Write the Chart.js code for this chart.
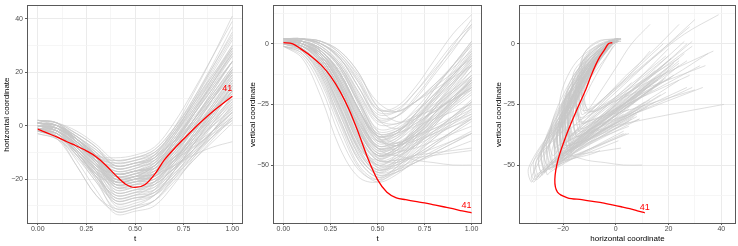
<!DOCTYPE html>
<html><head><meta charset="utf-8">
<script src="https://cdn.jsdelivr.net/npm/chart.js@4.4.1/dist/chart.umd.min.js"></script>
<style>
html,body{margin:0;padding:0;background:#fff;}
#wrap{position:relative;width:738px;height:246px;overflow:hidden;}
canvas{position:absolute;top:0;}
</style></head><body>
<div id="wrap">
<canvas id="c1" width="246" height="246" style="left:0px"></canvas>
<canvas id="c2" width="246" height="246" style="left:246px"></canvas>
<canvas id="c3" width="246" height="246" style="left:492px"></canvas>
</div>
<script>
// ---------- data ----------
const tCoarse = [0, 0.1, 0.2, 0.3, 0.4, 0.5, 0.6, 0.7, 0.8, 0.9, 1.0];
const tFine = [0, 0.05, 0.1, 0.15, 0.2, 0.25, 0.3, 0.35, 0.4, 0.45, 0.5, 0.55, 0.6, 0.65, 0.7, 0.75, 0.8, 0.85, 0.9, 0.95, 1.0];

const redLabel = '41';
const redH = [-1.3, -2.8, -4.3, -6.0, -7.6, -9.4, -11.6, -14.8, -18.5, -21.8, -23.1, -22.1, -18.3, -12.9, -8.7, -5.0, -1.3, 2.1, 5.3, 8.2, 11.0];
const redV = [0.5, 0.0, -2.5, -5.3, -8.7, -13.3, -19.5, -27.3, -37.0, -47.5, -56.0, -61.2, -63.5, -64.3, -65.0, -65.6, -66.4, -67.2, -68.0, -68.9, -69.7];

const grayH = [
[0,-1,-8,-15,-18,-17,-14,-6,3,12,21],
[1,0,-5,-11,-19,-18,-15,-7,2,11,20],
[-2,-4,-10,-18,-27,-26,-22,-13,-3,7,17],
[-1,-3,-11,-19,-25,-24,-21,-13,-4,6,15],
[2,1,-3,-8,-14,-13,-10,-2,8,19,30],
[0,-2,-8,-17,-30,-29,-26,-17,-7,3,13],
[1,-1,-9,-17,-20,-19,-15,-6,5,16,27],
[-3,-5,-11,-20,-32,-31,-28,-19,-9,1,11],
[0,-1,-5,-10,-16,-15,-12,-4,6,16,26],
[1,0,-6,-13,-18,-17,-16,-10,-2,7,16],
[-1,-2,-7,-13,-22,-21,-20,-13,-4,5,14],
[-2,-3,-9,-17,-28,-27,-25,-17,-7,4,15],
[1,0,-5,-11,-12,-11,-8,1,13,26,39],
[0,-1,-6,-13,-22,-21,-19,-11,-1,10,21],
[-1,-3,-10,-19,-28,-27,-25,-18,-10,-2,6],
[2,1,-6,-14,-19,-18,-14,-4,8,20,32],
[0,-2,-8,-15,-21,-20,-17,-10,-2,6,14],
[1,0,-5,-12,-21,-20,-18,-12,-5,2,9],
[-1,-2,-10,-19,-26,-25,-23,-15,-5,5,15],
[0,-1,-6,-12,-17,-16,-13,-5,5,16,27],
[1,0,-4,-10,-15,-14,-11,-3,9,22,35],
[-2,-4,-13,-24,-33,-32,-30,-22,-12,-2,8],
[0,-2,-7,-14,-23,-22,-20,-14,-7,0,7],
[1,-1,-6,-13,-20,-19,-16,-8,2,12,22],
[2,1,-5,-12,-16,-15,-12,-3,9,21,33],
[-1,-3,-9,-17,-25,-24,-22,-16,-9,-2,5],
[0,-1,-5,-11,-18,-17,-15,-8,1,10,19],
[1,0,-6,-13,-17,-16,-13,-5,6,18,30],
[-2,-4,-10,-19,-29,-28,-26,-19,-11,-3,5],
[0,-1,-5,-11,-16,-15,-11,-1,12,26,41],
[1,0,-6,-12,-14,-13,-10,-2,8,18,28],
[-1,-2,-7,-14,-23,-22,-21,-16,-10,-4,2],
[0,-1,-6,-13,-20,-19,-17,-11,-4,3,10],
[2,1,-5,-11,-13,-12,-9,-1,10,22,34],
[-3,-5,-12,-21,-31,-30,-28,-21,-13,-5,3],
[0,-2,-7,-14,-21,-20,-18,-13,-8,-3,2],
[1,0,-7,-14,-18,-17,-16,-12,-7,-2,3],
[-1,-2,-7,-14,-21,-20,-19,-15,-11,-8,-6],
[0,-1,-6,-12,-19,-18,-16,-9,0,9,18],
[1,0,-6,-13,-15,-14,-11,-2,10,23,37],
[-2,-3,-8,-15,-24,-23,-22,-16,-9,-2,5],
[0,-1,-5,-11,-19,-18,-17,-12,-6,0,6],
[-1,-4,-15,-26,-32,-31,-28,-20,-11,-2,7],
[1,0,-4,-9,-15,-14,-12,-5,4,14,24],
[0,-1,-6,-12,-20,-19,-18,-12,-4,5,13],
[-2,-3,-10,-19,-27,-26,-24,-16,-6,4,13],
[2,1,-2,-7,-13,-12,-10,-3,6,15,24],
[0,-2,-8,-16,-24,-23,-21,-14,-5,4,12],
[1,0,-6,-12,-14,-13,-11,-6,0,6,13],
[1,-1,-7,-15,-22,-21,-18,-10,0,10,20],
[-1,-3,-9,-16,-20,-19,-15,-6,4,14,24],
[0,-2,-9,-16,-21,-21,-20,-14,-5,5,15],
[2,0,-5,-12,-22,-22,-21,-15,-7,2,11],
[-2,-4,-11,-20,-29,-28,-24,-14,-3,8,19],
[0,-1,-7,-12,-13,-12,-9,-1,9,19,29],
[1,0,-4,-11,-20,-19,-18,-11,-2,8,18],
[-1,-3,-10,-19,-26,-25,-21,-12,-1,10,21],
[0,-1,-8,-16,-19,-18,-15,-8,1,10,19],
[1,0,-4,-10,-19,-19,-18,-15,-9,-2,5],
[-2,-4,-10,-18,-27,-26,-25,-19,-12,-4,4],
[0,-2,-10,-18,-21,-20,-16,-7,4,15,26],
[1,0,-3,-8,-15,-14,-13,-7,2,12,22],
[-1,-2,-7,-14,-25,-24,-23,-17,-9,0,9],
[2,1,-5,-12,-18,-17,-15,-7,4,16,28],
[0,-1,-6,-13,-23,-23,-22,-16,-8,1,10],
[-1,-3,-9,-17,-23,-22,-18,-9,2,13,24],
[1,0,-7,-15,-18,-17,-13,-4,7,18,29],
[0,-2,-8,-16,-26,-25,-24,-18,-11,-4,3],
[2,1,-3,-8,-16,-15,-14,-8,1,11,21],
[-2,-5,-15,-26,-31,-30,-26,-17,-7,3,13],
[0,-1,-5,-11,-20,-20,-19,-13,-4,6,16],
[1,-1,-6,-14,-22,-21,-18,-10,-1,8,17],
[-1,-2,-9,-17,-21,-20,-17,-9,2,13,24],
[0,-2,-7,-14,-20,-19,-15,-6,5,17,29],
[1,0,-4,-9,-15,-14,-12,-6,2,11,20],
[-2,-3,-11,-21,-28,-27,-26,-20,-13,-6,1],
[0,-1,-6,-12,-21,-20,-19,-12,-3,7,17],
[2,0,-5,-11,-17,-16,-12,-3,7,17,27],
[-1,-3,-10,-18,-22,-21,-19,-13,-6,1,8],
[1,0,-5,-11,-18,-17,-15,-9,-2,5,12],
[0,-1,-5,-11,-18,-17,-14,-6,4,14,24]
];

const grayV = [
[1,0,-6,-18,-33,-40,-37,-30,-22,-14,-6],
[2,2,-3,-12,-28,-41,-39,-31,-22,-12,-2],
[0,-2,-10,-26,-42,-50,-47,-40,-32,-24,-16],
[1,0,-6,-19,-36,-46,-43,-35,-27,-19,-11],
[2,2,0,-7,-20,-32,-30,-22,-12,-1,10],
[0,-3,-14,-32,-48,-55,-51,-44,-37,-30,-23],
[1,0,-5,-15,-30,-42,-40,-32,-22,-11,0],
[-1,-4,-15,-33,-50,-56,-53,-46,-39,-32,-25],
[1,1,-2,-10,-25,-38,-37,-29,-19,-9,1],
[2,1,-4,-16,-34,-45,-42,-36,-29,-22,-15],
[0,-1,-7,-20,-37,-48,-46,-39,-31,-23,-15],
[0,-2,-11,-27,-44,-53,-50,-42,-33,-24,-15],
[2,2,0,-6,-16,-27,-26,-18,-7,4,12],
[1,0,-7,-21,-38,-47,-44,-36,-26,-16,-6],
[0,-2,-10,-26,-43,-52,-50,-46,-41,-36,-31],
[1,1,-3,-13,-28,-38,-36,-30,-23,-16,-9],
[1,0,-6,-18,-34,-44,-42,-37,-31,-25,-19],
[2,1,-5,-17,-33,-43,-42,-40,-37,-34,-31],
[0,-1,-8,-23,-40,-49,-47,-42,-36,-30,-24],
[1,0,-4,-14,-29,-40,-38,-31,-23,-15,-7],
[1,1,-2,-10,-24,-36,-35,-29,-21,-13,-4],
[-1,-4,-16,-35,-51,-57,-54,-48,-42,-36,-30],
[1,0,-6,-19,-36,-46,-45,-42,-38,-34,-30],
[2,1,-4,-15,-31,-42,-40,-34,-27,-20,-13],
[1,1,-3,-12,-27,-37,-36,-32,-28,-23,-18],
[0,-2,-9,-24,-41,-50,-49,-46,-43,-40,-37],
[1,1,-3,-12,-27,-38,-36,-29,-21,-13,-5],
[2,2,-1,-8,-21,-33,-33,-30,-27,-23,-19],
[0,-2,-12,-29,-46,-54,-52,-47,-42,-37,-32],
[1,0,-4,-13,-27,-38,-37,-34,-31,-28,-25],
[2,2,1,-4,-14,-27,-27,-20,-11,-2,7],
[0,-1,-8,-22,-39,-48,-48,-46,-45,-44,-43],
[1,0,-5,-17,-34,-45,-46,-48,-49,-50,-50],
[2,2,0,-5,-15,-28,-28,-24,-19,-14,-9],
[-1,-3,-13,-31,-48,-55,-53,-49,-45,-41,-37],
[1,0,-6,-19,-35,-45,-44,-40,-36,-32,-28],
[2,1,-4,-15,-31,-42,-41,-38,-35,-32,-29],
[0,-1,-7,-21,-38,-48,-48,-47,-46,-45,-44],
[1,1,-3,-11,-24,-35,-34,-27,-18,-9,0],
[2,2,-1,-8,-20,-31,-30,-24,-17,-10,-3],
[0,-1,-5,-16,-32,-43,-42,-39,-35,-31,-27],
[1,0,-4,-13,-27,-39,-38,-33,-28,-22,-16],
[-1,-6,-22,-43,-55,-57,-52,-45,-38,-31,-24],
[2,2,0,-6,-18,-30,-30,-23,-13,-3,8],
[1,1,-3,-12,-27,-40,-39,-32,-23,-13,-3],
[0,-2,-9,-24,-41,-51,-48,-41,-33,-25,-17],
[2,2,1,-3,-12,-26,-28,-24,-18,-12,-6],
[1,-1,-9,-25,-43,-52,-49,-42,-34,-26,-18],
[2,2,0,-6,-18,-29,-28,-20,-10,0,8],
[1,0,-5,-17,-35,-47,-45,-38,-29,-20,-11],
[0,-2,-10,-27,-43,-48,-44,-36,-27,-18,-9],
[1,1,-2,-9,-22,-36,-41,-37,-30,-22,-14],
[2,1,-3,-13,-29,-43,-46,-42,-36,-30,-24],
[0,-3,-13,-31,-47,-53,-49,-41,-32,-23,-14],
[2,2,1,-4,-13,-24,-28,-24,-17,-9,-1],
[1,1,-2,-10,-25,-39,-42,-38,-31,-23,-15],
[0,-2,-11,-28,-45,-52,-48,-39,-29,-19,-9],
[1,0,-5,-16,-32,-44,-43,-38,-32,-26,-20],
[2,1,-2,-9,-23,-38,-44,-43,-40,-37,-34],
[-1,-3,-12,-29,-46,-54,-53,-49,-45,-41,-37],
[1,0,-6,-19,-36,-46,-43,-34,-24,-14,-4],
[2,2,0,-5,-16,-31,-35,-31,-24,-16,-8],
[0,-1,-7,-21,-39,-50,-50,-46,-41,-36,-31],
[2,2,-1,-9,-24,-37,-36,-31,-25,-19,-13],
[1,0,-5,-17,-34,-47,-49,-45,-39,-33,-27],
[0,-1,-8,-23,-41,-50,-46,-37,-27,-17,-7],
[1,1,-3,-12,-27,-39,-37,-29,-19,-9,1],
[1,-1,-8,-22,-40,-51,-51,-48,-44,-40,-36],
[2,2,1,-3,-12,-26,-32,-31,-26,-20,-14],
[-1,-5,-18,-38,-52,-56,-51,-43,-34,-25,-16],
[1,1,-2,-9,-23,-38,-42,-38,-31,-24,-17],
[1,0,-5,-17,-35,-46,-44,-39,-33,-27,-21],
[0,-1,-6,-19,-36,-46,-43,-35,-26,-17,-8],
[1,0,-5,-17,-33,-43,-41,-36,-30,-24,-18],
[2,2,0,-6,-18,-31,-33,-28,-21,-13,-5],
[0,-2,-10,-26,-44,-53,-52,-49,-46,-43,-40],
[1,0,-4,-14,-30,-43,-43,-37,-29,-21,-13],
[2,1,-3,-12,-27,-38,-37,-33,-28,-23,-18],
[0,-1,-6,-19,-36,-46,-45,-41,-37,-33,-29],
[1,1,-3,-12,-27,-40,-41,-38,-34,-30,-26],
[1,0,-4,-15,-31,-43,-42,-36,-29,-22,-15]
];

// axis ticks (major ones are labelled, minor ones only get a grid line)
const tTicksMajor = [0, 0.25, 0.5, 0.75, 1];
const tTicksMinor = [0.125, 0.375, 0.625, 0.875];
const hTicksMajor = [-20, 0, 20, 40];
const hTicksMinor = [-30, -10, 10, 30];
const vTicksMajor = [-50, -25, 0];
const vTicksMinor = [-62.5, -37.5, -12.5, 12.5];

const tRange = [-0.05, 1.05];
const hRange = [-36.4, 44.7];
const hRange3 = [-36.3, 45.2];
const vRange = [-73.9, 15.5];

// ---------- helpers ----------
const FONT = "'Liberation Sans', Arial, Helvetica, sans-serif";
Chart.defaults.font.family = FONT;

function fmtTick(v, isT) {
  if (isT) return v.toFixed(2);
  const s = String(Math.abs(v));
  return v < 0 ? '\u2212' + s : s;
}

function axis(kind, range, major, minor, title, isT, fixedSize) {
  const all = major.concat(minor).sort((a, b) => a - b);
  const isMajor = v => major.indexOf(v) >= 0;
  const o = {
    type: 'linear',
    min: range[0], max: range[1],
    afterBuildTicks: s => { s.ticks = all.map(v => ({ value: v })); },
    grid: {
      color: c => (c.tick && isMajor(c.tick.value)) ? '#ebebeb' : '#f4f4f4',
      lineWidth: c => (c.tick && isMajor(c.tick.value)) ? 1 : 0.8,
      tickColor: c => (c.tick && isMajor(c.tick.value)) ? '#333333' : 'rgba(0,0,0,0)',
      tickLength: kind === 'x' ? 2 : 3,
      tickWidth: 0.8
    },
    border: { display: false },
    ticks: {
      autoSkip: false, maxRotation: 0, minRotation: 0,
      padding: kind === 'x' ? 0 : 2,
      color: '#4d4d4d',
      font: { size: 7, family: FONT },
      callback: v => isMajor(v) ? fmtTick(v, isT) : ''
    },
    title: {
      display: true, text: title, color: '#000000',
      font: { size: 8, family: FONT },
      padding: kind === 'x' ? { top: 0, bottom: 2 } : { top: 1.5, bottom: 0 }
    }
  };
  if (kind === 'x') o.afterFit = s => { s.height = fixedSize; };
  else o.afterFit = s => { s.width = fixedSize; };
  return o;
}

const framePlugin = {
  id: 'frame',
  afterDatasetsDraw(chart) {
    const a = chart.chartArea, ctx = chart.ctx;
    ctx.save();
    ctx.strokeStyle = '#595959';
    ctx.lineWidth = 1;
    ctx.strokeRect(Math.round(a.left) - 0.5, Math.round(a.top) - 0.5,
                   Math.round(a.right - a.left) + 1, Math.round(a.bottom - a.top) + 1);
    ctx.restore();
  }
};

function labelPlugin(xVal, yVal, align, dx, dy) {
  return {
    id: 'redlabel',
    afterDatasetsDraw(chart) {
      const ctx = chart.ctx;
      const px = chart.scales.x.getPixelForValue(xVal);
      const py = chart.scales.y.getPixelForValue(yVal);
      ctx.save();
      ctx.fillStyle = '#ff0000';
      ctx.font = '9px ' + FONT;
      ctx.textAlign = align;
      ctx.textBaseline = 'bottom';
      ctx.fillText(redLabel, px + dx, py + dy);
      ctx.restore();
    }
  };
}

function pts(xs, ys) { return xs.map((x, i) => ({ x: x, y: ys[i] })); }

function build(id, redPts, grayPts, xAxis, yAxis, padRight, label, monotoneRed) {
  const ds = [];
  ds.push({
    data: redPts, borderColor: '#ff0000', borderWidth: 1.3, order: 0,
    pointRadius: 0, fill: false, tension: 0.3,
    cubicInterpolationMode: monotoneRed ? 'monotone' : 'default'
  });
  grayPts.forEach(p => ds.push({
    data: p, borderColor: 'rgba(200,200,200,0.75)', borderWidth: 0.8, order: 1,
    pointRadius: 0, fill: false, tension: 0.35
  }));
  new Chart(document.getElementById(id), {
    type: 'line',
    data: { datasets: ds },
    options: {
      responsive: false, animation: false, devicePixelRatio: 1,
      parsing: false, normalized: true,
      layout: { padding: { left: 0, right: padRight, top: 4, bottom: 0 } },
      plugins: { legend: { display: false }, tooltip: { enabled: false } },
      events: [],
      scales: { x: xAxis, y: yAxis }
    },
    plugins: [framePlugin, label]
  });
}

// panel 1: horizontal coordinate vs t
build('c1',
  pts(tFine, redH),
  grayH.map(h => pts(tCoarse, h)),
  axis('x', tRange, tTicksMajor, tTicksMinor, 't', true, 23),
  axis('y', hRange, hTicksMajor, hTicksMinor, 'horizontal coordinate', false, 28),
  4,
  labelPlugin(tFine[tFine.length - 1], redH[redH.length - 1], 'right', 0, -3), true);

// panel 2: vertical coordinate vs t
build('c2',
  pts(tFine, redV),
  grayV.map(v => pts(tCoarse, v)),
  axis('x', tRange, tTicksMajor, tTicksMinor, 't', true, 23),
  axis('y', vRange, vTicksMajor, vTicksMinor, 'vertical coordinate', false, 28),
  11,
  labelPlugin(tFine[tFine.length - 1], redV[redV.length - 1], 'right', 0, -3), true);

// panel 3: vertical vs horizontal coordinate
build('c3',
  pts(redH, redV),
  grayH.map((h, i) => pts(h, grayV[i])),
  axis('x', hRange3, hTicksMajor, hTicksMinor, 'horizontal coordinate', false, 23),
  axis('y', vRange, vTicksMajor, vTicksMinor, 'vertical coordinate', false, 28),
  3,
  labelPlugin(redH[redH.length - 1], redV[redV.length - 1], 'center', 0, -1), false);
</script>
</body></html>
